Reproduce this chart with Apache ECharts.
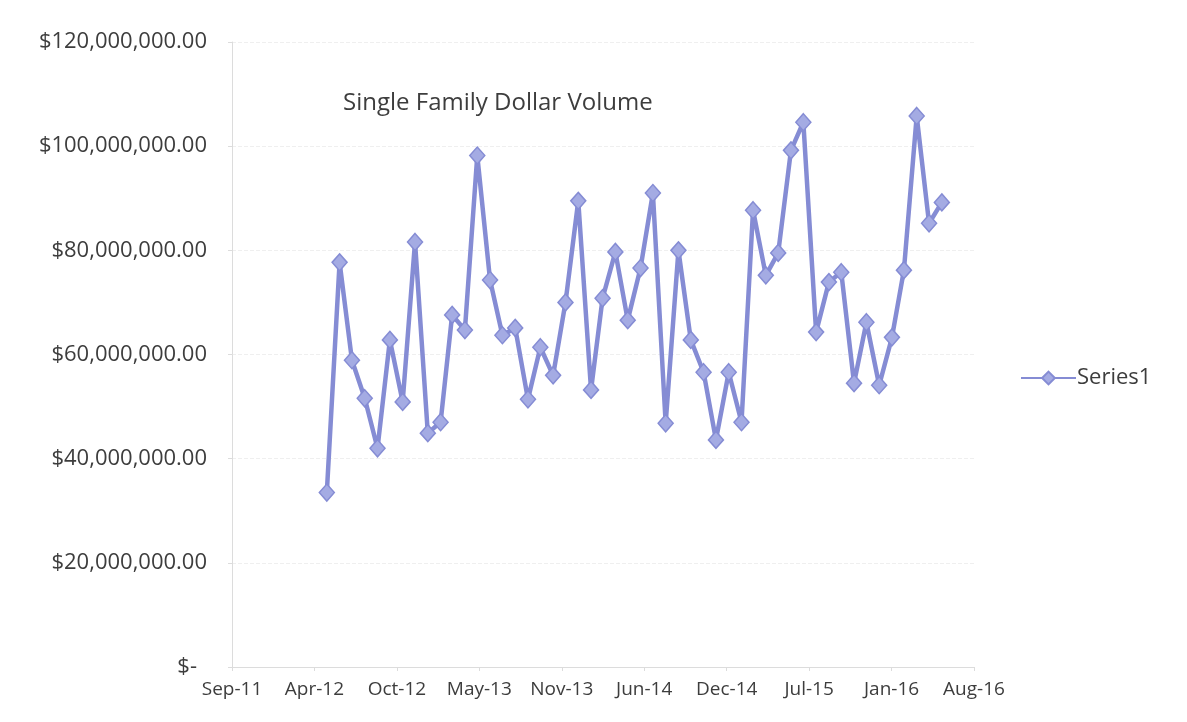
<!DOCTYPE html>
<html>
<head>
<meta charset="utf-8">
<title>Single Family Dollar Volume</title>
<script src="https://cdn.jsdelivr.net/npm/echarts@6/dist/echarts.min.js"></script>
<style>
  html, body { margin: 0; padding: 0; background: #fff; }
  #chart { width: 1187px; height: 722px; }
</style>
</head>
<body>
<div id="chart"></div>
<script>
// monthly observations, May 2012 .. Jun 2016
const months = [
  '2012-05', '2012-06', '2012-07', '2012-08', '2012-09', '2012-10', '2012-11', '2012-12',
  '2013-01', '2013-02', '2013-03', '2013-04', '2013-05', '2013-06', '2013-07', '2013-08',
  '2013-09', '2013-10', '2013-11', '2013-12', '2014-01', '2014-02', '2014-03', '2014-04',
  '2014-05', '2014-06', '2014-07', '2014-08', '2014-09', '2014-10', '2014-11', '2014-12',
  '2015-01', '2015-02', '2015-03', '2015-04', '2015-05', '2015-06', '2015-07', '2015-08',
  '2015-09', '2015-10', '2015-11', '2015-12', '2016-01', '2016-02', '2016-03', '2016-04',
  '2016-05', '2016-06'
];

// dollar volume in millions
const volume = [
  33.5, 77.7, 58.9, 51.6, 42.0, 62.8, 50.9, 81.6,
  44.9, 47.0, 67.6, 64.7, 98.2, 74.3, 63.7, 65.1,
  51.4, 61.4, 56.0, 70.0, 89.5, 53.2, 70.8, 79.7,
  66.6, 76.6, 91.0, 46.8, 80.0, 62.8, 56.6, 43.6,
  56.6, 47.0, 87.7, 75.2, 79.5, 99.2, 104.6, 64.3,
  73.9, 75.8, 54.5, 66.2, 54.1, 63.3, 76.2, 105.8,
  85.2, 89.2
];

// Excel-style date axis: starts 14 Sep 2011, one label every 200 days
const axisStart = Date.UTC(2011, 8, 14);
const DAY = 86400000;
const axisMin = 0;
const axisMax = 1800;
const axisStep = 200;
const monthNames = ['Jan', 'Feb', 'Mar', 'Apr', 'May', 'Jun', 'Jul', 'Aug', 'Sep', 'Oct', 'Nov', 'Dec'];

const yMax = 120000000;
const yStep = 20000000;

const toDays = (m) => {
  const [y, mo] = m.split('-').map(Number);
  return Math.round((Date.UTC(y, mo - 1, 1) - axisStart) / DAY);
};

const fmtDate = (v) => {
  const d = new Date(axisStart + v * DAY);
  return monthNames[d.getUTCMonth()] + '-' + String(d.getUTCFullYear()).slice(2);
};

const fmtMoney = (v) => {
  if (v === 0) return '{dash|$-}';
  return '$' + v.toLocaleString('en-US', { minimumFractionDigits: 2, maximumFractionDigits: 2 });
};

const chart = echarts.init(document.getElementById('chart'));
const font = '"Open Sans", sans-serif';
const ink = '#3d3d3d';

chart.setOption({
  backgroundColor: '#ffffff',
  animation: false,
  textStyle: { fontFamily: font },
  title: {
    text: 'Single Family Dollar Volume',
    left: 338,
    top: 86,
    textStyle: { fontFamily: font, fontSize: 24, fontWeight: 'normal', color: ink }
  },
  legend: {
    left: 1015,
    top: 362,
    itemWidth: 55,
    itemHeight: 16,
    itemGap: 4,
    textStyle: { fontFamily: font, fontSize: 22, color: ink, padding: [0, 0, 0, -4] },
    data: ['Series1']
  },
  grid: { left: 232, right: 213, top: 42, bottom: 55 },
  xAxis: {
    type: 'value',
    min: axisMin,
    max: axisMax,
    interval: axisStep,
    axisLine: { show: true, lineStyle: { color: '#dcdcdc', width: 1 } },
    axisTick: { show: true, length: 4, lineStyle: { color: '#dcdcdc' } },
    splitLine: { show: false },
    axisLabel: {
      margin: 13,
      fontFamily: font,
      fontSize: 19,
      color: ink,
      showMinLabel: true,
      showMaxLabel: true,
      formatter: fmtDate
    }
  },
  yAxis: {
    type: 'value',
    min: 0,
    max: yMax,
    interval: yStep,
    axisLine: { show: true, lineStyle: { color: '#dcdcdc', width: 1 } },
    axisTick: { show: true, length: 4, lineStyle: { color: '#dcdcdc' } },
    splitLine: { show: true, lineStyle: { color: '#efefef', width: 1, type: 'dashed' } },
    axisLabel: {
      margin: 25,
      fontFamily: font,
      fontSize: 22,
      color: ink,
      formatter: fmtMoney,
      rich: {
        dash: { fontFamily: font, fontSize: 22, color: ink, padding: [0, 10, 0, 0] }
      }
    }
  },
  series: [{
    name: 'Series1',
    type: 'line',
    data: months.map((m, i) => [toDays(m), volume[i] * 1000000]),
    symbol: 'diamond',
    symbolSize: [15, 17],
    lineStyle: { color: '#858cd4', width: 4.5 },
    itemStyle: { color: '#a4abe3', borderColor: '#858cd4', borderWidth: 1.5 }
  }]
});
</script>
</body>
</html>
